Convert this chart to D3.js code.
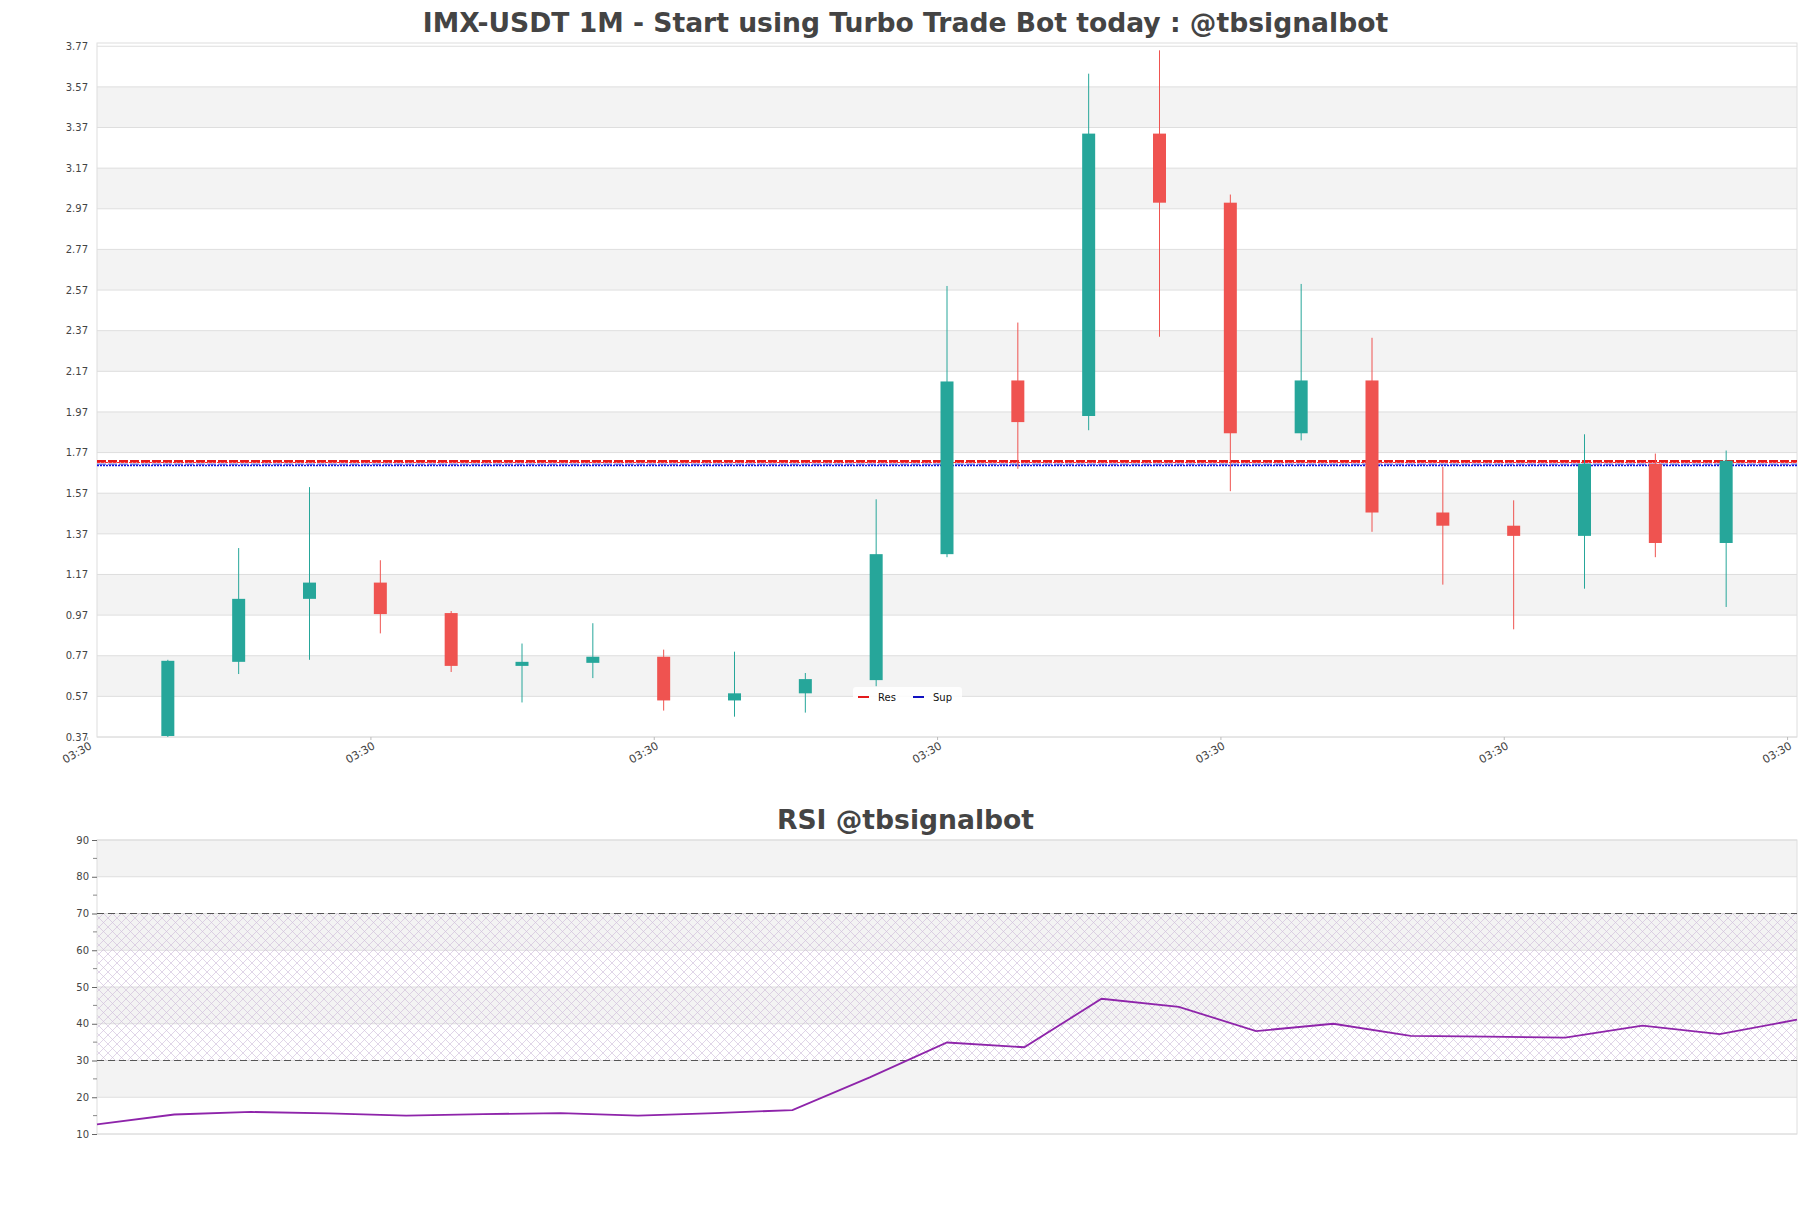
<!DOCTYPE html>
<html>
<head>
<meta charset="utf-8">
<script src="https://cdn.jsdelivr.net/npm/d3@7/dist/d3.min.js"></script>
<style>
  html, body { margin: 0; padding: 0; background: #fff; }
  svg { display: block; font-family: "DejaVu Sans", sans-serif; }
</style>
</head>
<body>
<svg id="chart" width="1811" height="1208"></svg>
<script>
// ---------- DATA ----------
const opens  = [0.375, 0.74, 1.05, 1.13, 0.98, 0.72, 0.735, 0.765, 0.55, 0.585, 0.65, 1.27, 2.125, 1.95, 3.34, 3.00, 1.865, 2.125, 1.475, 1.41, 1.36, 1.715, 1.325];
const highs  = [0.75, 1.30, 1.60, 1.24, 0.99, 0.83, 0.93, 0.80, 0.79, 0.685, 1.54, 2.59, 2.41, 3.635, 3.75, 3.04, 2.60, 2.335, 1.70, 1.535, 1.86, 1.765, 1.78];
const lows   = [0.37, 0.68, 0.75, 0.88, 0.69, 0.54, 0.66, 0.50, 0.47, 0.49, 0.62, 1.255, 1.69, 1.88, 2.34, 1.58, 1.83, 1.38, 1.12, 0.90, 1.10, 1.255, 1.01];
const closes = [0.745, 1.05, 1.13, 0.975, 0.72, 0.74, 0.765, 0.55, 0.585, 0.655, 1.27, 2.12, 1.92, 3.34, 3.00, 1.865, 2.125, 1.475, 1.41, 1.36, 1.715, 1.325, 1.73];
const resLevels = [1.727, 1.721];
const supLevels = [1.713, 1.706];
const priceTicks = [0.37, 0.57, 0.77, 0.97, 1.17, 1.37, 1.57, 1.77, 1.97, 2.17, 2.37, 2.57, 2.77, 2.97, 3.17, 3.37, 3.57, 3.77];
const timeTickIdx = [-0.14, 3.86, 7.86, 11.86, 15.86, 19.86, 23.86];
const timeTickLabels = ["03:30", "03:30", "03:30", "03:30", "03:30", "03:30", "03:30"];
const rsiValues = [12.6, 15.3, 16.0, 15.6, 15.0, 15.4, 15.7, 15.0, 15.7, 16.5, 25.4, 34.9, 33.6, 46.8, 44.6, 38.0, 40.0, 36.7, 36.5, 36.2, 39.5, 37.2, 41.1];
const rsiTicks = [10, 20, 30, 40, 50, 60, 70, 80, 90];
const rsiMinorTicks = [15, 25, 35, 45, 55, 65, 75, 85];
const rsiLevels = [30, 70];
const mainTitle = "IMX-USDT 1M - Start using Turbo Trade Bot today : @tbsignalbot";
const rsiTitle = "RSI @tbsignalbot";

// ---------- LAYOUT ----------
const svg = d3.select("#chart");
const P = { left: 97, right: 1797, top: 43, bottom: 737 };
const R = { left: 97, right: 1797, top: 840, bottom: 1134 };
const UP = "#26a69a", DOWN = "#ef5350";
const GRID = "#dedede", BAND = "#f3f3f3", TXT = "#444";

const candles = opens.map((o, i) => ({ i: i + 1, o, h: highs[i], l: lows[i], c: closes[i] }));

const x = d3.scaleLinear().domain([0, 24]).range([P.left, P.right]);
const y = d3.scaleLinear().domain([0.37, 3.786]).range([P.bottom, P.top]);

// Title
svg.append("text").attr("x", 905.5).attr("y", 32).attr("text-anchor", "middle")
  .attr("font-size", 26.6).attr("font-weight", "bold").attr("fill", TXT).text(mainTitle);

// bands
const g = svg.append("g");
for (let k = 0; k < priceTicks.length - 1; k++) {
  if (k % 2 === 1) {
    g.append("rect").attr("x", P.left).attr("width", P.right - P.left)
      .attr("y", y(priceTicks[k + 1])).attr("height", y(priceTicks[k]) - y(priceTicks[k + 1]))
      .attr("fill", BAND);
  }
}
g.selectAll("line.grid").data(priceTicks).join("line").attr("class", "grid")
  .attr("x1", P.left).attr("x2", P.right)
  .attr("y1", d => y(d)).attr("y2", d => y(d))
  .attr("stroke", GRID).attr("stroke-width", 1);
g.append("rect").attr("x", P.left).attr("y", P.top).attr("width", P.right - P.left)
  .attr("height", P.bottom - P.top).attr("fill", "none").attr("stroke", GRID).attr("stroke-width", 1);

// y axis labels
const yAxis = d3.axisLeft(y).tickValues(priceTicks).tickFormat(d3.format(".2f")).tickSize(0).tickPadding(9);
const ya = svg.append("g").attr("transform", `translate(${P.left},0)`).call(yAxis);
ya.select(".domain").remove();
ya.selectAll("text").attr("font-size", 10).attr("fill", TXT).attr("font-family", "DejaVu Sans");

// x axis
const xAxis = d3.axisBottom(x).tickValues(timeTickIdx).tickFormat((d, i) => timeTickLabels[i]).tickSize(3);
const xa = svg.append("g").attr("transform", `translate(0,${P.bottom})`).call(xAxis);
xa.select(".domain").remove();
xa.selectAll(".tick line").attr("stroke", "#bbb");
xa.selectAll("text").attr("font-size", 11).attr("fill", TXT).attr("font-family", "DejaVu Sans")
  .attr("text-anchor", "end").attr("dy", 0).attr("y", 0)
  .attr("transform", "translate(5,11) rotate(-30)");

// Res / Sup lines
const lv = svg.append("g");
lv.append("line").attr("x1", P.left).attr("x2", P.right).attr("y1", y(resLevels[0])).attr("y2", y(resLevels[0]))
  .attr("stroke", "#e31a1c").attr("stroke-width", 2.5).attr("stroke-dasharray", "9,2");
lv.append("line").attr("x1", P.left).attr("x2", P.right).attr("y1", y(supLevels[0])).attr("y2", y(supLevels[0]))
  .attr("stroke", "#3a4bd8").attr("stroke-width", 1).attr("stroke-dasharray", "9,2");
lv.append("line").attr("x1", P.left).attr("x2", P.right).attr("y1", y(resLevels[1])).attr("y2", y(resLevels[1]))
  .attr("stroke", "#ff3030").attr("stroke-width", 1).attr("stroke-dasharray", "3,1");
lv.append("line").attr("x1", P.left).attr("x2", P.right).attr("y1", y(supLevels[1])).attr("y2", y(supLevels[1]))
  .attr("stroke", "#1010e0").attr("stroke-width", 1.5).attr("stroke-dasharray", "2,1");

// candles
const cg = svg.append("g");
const bw = 13;
cg.selectAll("line.wick").data(candles).join("line").attr("class", "wick")
  .attr("x1", d => x(d.i)).attr("x2", d => x(d.i))
  .attr("y1", d => y(d.h)).attr("y2", d => y(d.l))
  .attr("stroke", d => d.c >= d.o ? UP : DOWN).attr("stroke-width", 1);
cg.selectAll("rect.body").data(candles).join("rect").attr("class", "body")
  .attr("x", d => x(d.i) - bw / 2).attr("width", bw)
  .attr("y", d => y(Math.max(d.o, d.c)))
  .attr("height", d => Math.max(1, Math.abs(y(d.o) - y(d.c))))
  .attr("fill", d => d.c >= d.o ? UP : DOWN);

// legend
const lg = svg.append("g").attr("transform", "translate(853,687)");
lg.append("rect").attr("width", 109).attr("height", 20).attr("rx", 3).attr("fill", "#fff").attr("fill-opacity", 0.85);
lg.append("line").attr("x1", 5).attr("x2", 16).attr("y1", 10).attr("y2", 10).attr("stroke", "#e31a1c").attr("stroke-width", 2);
lg.append("text").attr("x", 25).attr("y", 14).attr("font-size", 10).attr("fill", "#111").text("Res");
lg.append("line").attr("x1", 60).attr("x2", 71).attr("y1", 10).attr("y2", 10).attr("stroke", "#1010c0").attr("stroke-width", 2);
lg.append("text").attr("x", 80).attr("y", 14).attr("font-size", 10).attr("fill", "#111").text("Sup");

// ---------- RSI ----------
const rx = d3.scaleLinear().domain([0, rsiValues.length - 1]).range([R.left, R.right]);
const ry = d3.scaleLinear().domain([10, 90]).range([R.bottom, R.top]);

svg.append("text").attr("x", 905.5).attr("y", 829).attr("text-anchor", "middle")
  .attr("font-size", 26.6).attr("font-weight", "bold").attr("fill", TXT).text(rsiTitle);

const defs = svg.append("defs");
const pat = defs.append("pattern").attr("id", "hatch").attr("patternUnits", "userSpaceOnUse")
  .attr("width", 9).attr("height", 9);
pat.append("path").attr("d", "M0,0 L9,9 M9,0 L0,9").attr("stroke", "#cbb8d8").attr("stroke-width", 0.7).attr("fill", "none");

const rg = svg.append("g");
for (let k = 0; k < rsiTicks.length - 1; k++) {
  if (k % 2 === 1) {
    rg.append("rect").attr("x", R.left).attr("width", R.right - R.left)
      .attr("y", ry(rsiTicks[k + 1])).attr("height", ry(rsiTicks[k]) - ry(rsiTicks[k + 1]))
      .attr("fill", BAND);
  }
}
rg.selectAll("line.grid").data(rsiTicks).join("line").attr("class", "grid")
  .attr("x1", R.left).attr("x2", R.right).attr("y1", d => ry(d)).attr("y2", d => ry(d))
  .attr("stroke", GRID);
rg.append("rect").attr("x", R.left).attr("width", R.right - R.left)
  .attr("y", ry(rsiLevels[1])).attr("height", ry(rsiLevels[0]) - ry(rsiLevels[1]))
  .attr("fill", "url(#hatch)").attr("opacity", 0.85);
rg.append("rect").attr("x", R.left).attr("y", R.top).attr("width", R.right - R.left)
  .attr("height", R.bottom - R.top).attr("fill", "none").attr("stroke", GRID);
rg.selectAll("line.lvl").data(rsiLevels).join("line").attr("class", "lvl")
  .attr("x1", R.left).attr("x2", R.right).attr("y1", d => ry(d)).attr("y2", d => ry(d))
  .attr("stroke", "#555").attr("stroke-width", 1.2).attr("stroke-dasharray", "7,4");

const ryAxis = d3.axisLeft(ry).tickValues(rsiTicks).tickSize(5).tickPadding(3);
const rya = svg.append("g").attr("transform", `translate(${R.left},0)`).call(ryAxis);
rya.select(".domain").remove();
rya.selectAll(".tick line").attr("stroke", "#666");
rya.selectAll("text").attr("font-size", 10).attr("fill", TXT).attr("font-family", "DejaVu Sans");
svg.append("g").selectAll("line").data(rsiMinorTicks).join("line")
  .attr("x1", R.left - 4).attr("x2", R.left).attr("y1", d => ry(d)).attr("y2", d => ry(d))
  .attr("stroke", "#888");

const line = d3.line().x((d, i) => rx(i)).y(d => ry(d));
svg.append("path").datum(rsiValues).attr("d", line).attr("fill", "none")
  .attr("stroke", "#8e24aa").attr("stroke-width", 1.8);
</script>
</body>
</html>
